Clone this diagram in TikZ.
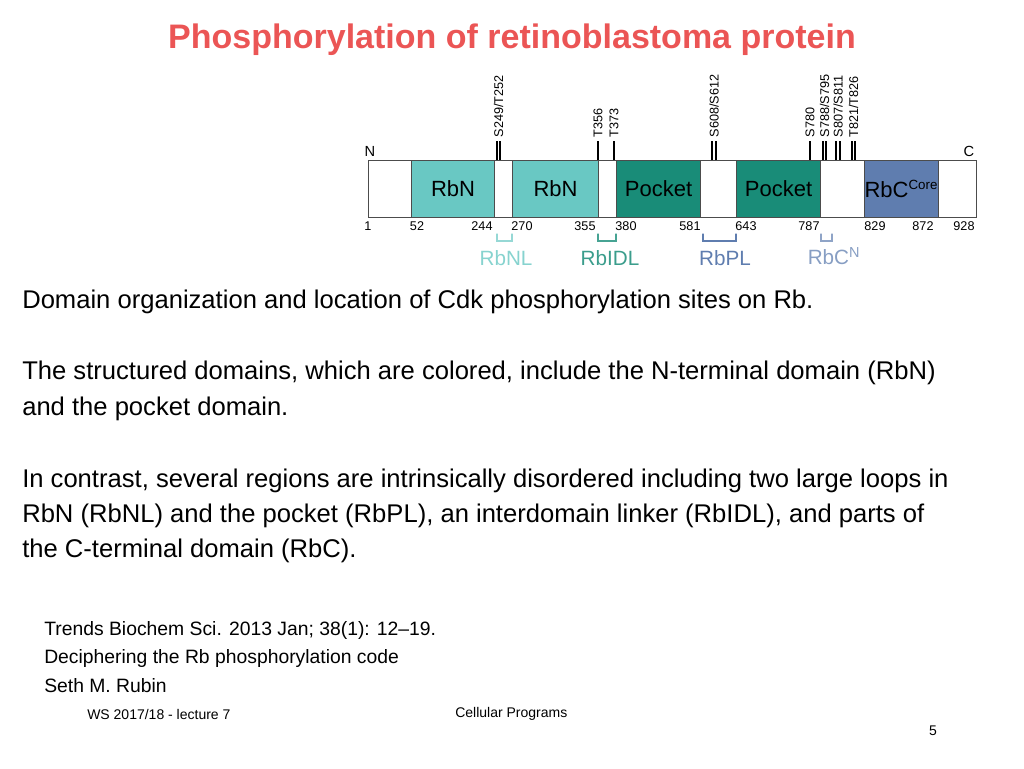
\documentclass[tikz,border=0pt]{standalone}
\usepackage{fontspec}
\setmainfont{Liberation Sans}
\usetikzlibrary{positioning}
\definecolor{rbncol}{RGB}{105,200,195}
\definecolor{pockcol}{RGB}{25,140,120}
\definecolor{rbccol}{RGB}{95,125,175}
\definecolor{titlecol}{RGB}{235,85,85}
\tikzset{
  dom/.style={draw=black!70,thick,minimum height=57*0.75pt,inner sep=0pt,font=\fontsize{16.5}{16.5}\selectfont},
  site/.style={rotate=90,anchor=west,inner sep=1pt,font=\fontsize{9.5}{9.5}\selectfont},
  num/.style={inner sep=0pt,font=\fontsize{9.5}{9.5}\selectfont},
  body/.style={anchor=west,inner sep=0pt,font=\fontsize{19.2}{26.5}\selectfont,align=left},
  refs/.style={anchor=west,inner sep=0pt,font=\fontsize{14.5}{21.5}\selectfont,align=left},
  brk/.style={thick,line cap=round}
}
\begin{document}
\begin{tikzpicture}[x=0.75pt,y=-0.75pt]
\useasboundingbox (0,0) rectangle (1024,768);
% title
\node[font=\fontsize{25.5}{25.5}\selectfont\bfseries,text=titlecol] (title) at (512,40) {Phosphorylation of retinoblastoma protein};
% protein bar
\node[dom,minimum width=608*0.75pt,anchor=north west,fill=white] (bar) at (368,160) {};
\node[dom,fill=rbncol,minimum width=83*0.75pt,anchor=north west] (rbn1) at (411,160) {RbN};
\node[dom,fill=rbncol,minimum width=86*0.75pt,anchor=north west] (rbn2) at (512,160) {RbN};
\node[dom,fill=pockcol,minimum width=84*0.75pt,anchor=north west] (pk1) at (616,160) {Pocket};
\node[dom,fill=pockcol,minimum width=84*0.75pt,anchor=north west] (pk2) at (736,160) {Pocket};
\node[dom,fill=rbccol,minimum width=72*0.75pt,anchor=north west] (rbc) at (864,160) {RbC\textsuperscript{\fontsize{10}{10}\selectfont Core}};
\node[num,font=\fontsize{11}{11}\selectfont,anchor=south] (nterm) at (370,157) {N};
\node[num,font=\fontsize{11}{11}\selectfont,anchor=south] (cterm) at (969,157) {C};
% phosphorylation sites
\foreach \xa in {497,500,598,614,712,716,810,823,826,836,840,852,855}
  \draw[thick] (\xa,160) -- (\xa,141);
\node[site] (s249) at (498.5,139) {S249/T252};
\node[site] (t356) at (598,139) {T356};
\node[site] (t373) at (614,139) {T373};
\node[site] (s608) at (714,139) {S608/S612};
\node[site] (s780) at (810,139) {S780};
\node[site] (s788) at (824.5,139) {S788/S795};
\node[site] (s807) at (838,139) {S807/S811};
\node[site] (t821) at (853.5,139) {T821/T826};
% residue numbers
\foreach \xa/\lab in {368/1,417/52,482/244,522/270,585/355,626/380,690/581,746/643,809/787,875/829,923/872,964/928}
  \node[num] at (\xa,226) {\lab};
% disordered regions
\draw[brk,rbncol!70] (497,234) -- (497,241) -- (512,241) -- (512,234);
\draw[brk,pockcol!80] (598,234) -- (598,241) -- (616,241) -- (616,234);
\draw[brk,rbccol] (703,234) -- (703,241) -- (736,241) -- (736,234);
\draw[brk,rbccol!70] (821,234) -- (821,241) -- (832,241) -- (832,234);
\node[num,font=\fontsize{15.5}{15.5}\selectfont,text=rbncol!80] (rbnl) at (506,258) {RbNL};
\node[num,font=\fontsize{15.5}{15.5}\selectfont,text=pockcol!85] (rbidl) at (610,258) {RbIDL};
\node[num,font=\fontsize{15.5}{15.5}\selectfont,text=rbccol] (rbpl) at (725,258) {RbPL};
\node[num,font=\fontsize{15.5}{15.5}\selectfont,text=rbccol!75] (rbcn) at (834,256) {RbC\textsuperscript{N}};
% text
\node[body] (t1) at (22,302) {Domain organization and location of Cdk phosphorylation sites on Rb.};
\node[body] (t2) at (22,391) {The structured domains, which are colored, include the N-terminal domain (RbN)\\and the pocket domain.};
\node[body] (t3) at (22,516) {In contrast, several regions are intrinsically disordered including two large loops in\\RbN (RbNL) and the pocket (RbPL), an interdomain linker (RbIDL), and parts of\\the C-terminal domain (RbC).};
\node[refs] (ref) at (44,657) {Trends Biochem Sci. 2013 Jan; 38(1): 12--19.\\Deciphering the Rb phosphorylation code\\Seth M. Rubin};
\node[num,font=\fontsize{10.5}{10.5}\selectfont,anchor=west] (foot1) at (87,714) {WS 2017/18 - lecture 7};
\node[num,font=\fontsize{10.5}{10.5}\selectfont,anchor=west] (foot2) at (455,714) {Cellular Programs};
\node[num,font=\fontsize{10.5}{10.5}\selectfont] (page) at (933,731) {5};
\end{tikzpicture}
\end{document}
